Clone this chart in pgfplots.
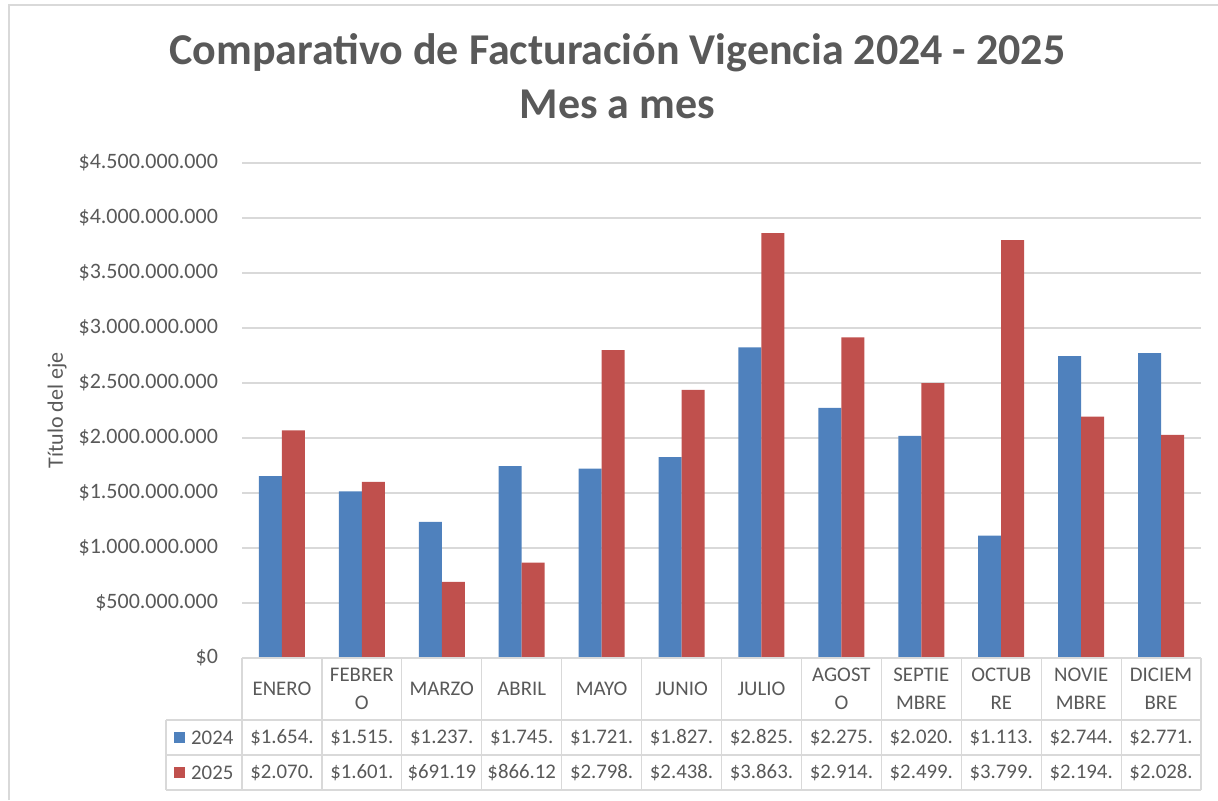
\documentclass[border=0pt]{standalone}
\usepackage{pgfplots}
\pgfplotsset{compat=1.18}
\usepackage{fontspec}
\setmainfont{Carlito}
\definecolor{bblue}{HTML}{4F81BD}
\definecolor{bred}{HTML}{C0504D}
\definecolor{txt}{HTML}{595959}
\definecolor{grd}{HTML}{D9D9D9}
\begin{document}
\begin{tikzpicture}
\path[use as bounding box] (-121pt,-71pt) rectangle (488pt,329pt);
\draw[grd, line width=0.6pt] (-116.5pt,-71pt) -- (-116.5pt,326.5pt) -- (488pt,326.5pt);
\begin{axis}[
  at={(0,0)}, anchor=south west,
  scale only axis, width=479.5pt, height=247.5pt,
  ybar=0pt, bar width=11.5pt,
  xmin=-0.5, xmax=11.5, ymin=0, ymax=4500,
  xtick=\empty,
  ytick={0,500,...,4500},
  yticklabels={\$0,\$500.000.000,\$1.000.000.000,\$1.500.000.000,\$2.000.000.000,\$2.500.000.000,\$3.000.000.000,\$3.500.000.000,\$4.000.000.000,\$4.500.000.000},
  yticklabel style={font=\fontsize{11}{13}\selectfont, text=txt, xshift=-8.5pt},
  /pgf/number format/assume math mode=true,
  major tick length=0pt,
  axis line style={draw=none},
  ymajorgrids, grid style={grd, line width=0.6pt},
  clip=false,
]
\addplot[fill=bblue, draw=none] coordinates {(0,1654) (1,1515) (2,1237) (3,1745) (4,1721) (5,1827) (6,2825) (7,2275) (8,2020) (9,1113) (10,2744) (11,2771)};
\addplot[fill=bred, draw=none] coordinates {(0,2070) (1,1601) (2,691.19) (3,866.12) (4,2798) (5,2438) (6,3863) (7,2914) (8,2499) (9,3799) (10,2194) (11,2028)};
\end{axis}
\node[rotate=90, font=\fontsize{11}{13}\selectfont, text=txt] at (-92.5pt,123.75pt) {Título del eje};
% title
\node[anchor=base, font=\fontsize{22}{26}\selectfont\bfseries, text=txt] at (187.75pt,297pt) {Comparativo de Facturación Vigencia 2024 - 2025};
\node[anchor=base, font=\fontsize{22}{26}\selectfont\bfseries, text=txt] at (187.75pt,270pt) {Mes a mes};
% data table
\def\w{39.9583}
\begin{scope}[grd, line width=0.6pt]
\draw (0pt,0pt) -- (479.5pt,0pt);
\draw (-38pt,-31pt) -- (479.5pt,-31pt);
\draw (-38pt,-48.5pt) -- (479.5pt,-48.5pt);
\draw (-38pt,-66pt) -- (479.5pt,-66pt);
\draw (-38pt,-31pt) -- (-38pt,-66pt);
\foreach \i in {0,...,12} {\draw (\i*\w pt,0pt) -- (\i*\w pt,-66pt);}
\end{scope}
\begin{scope}[every node/.style={font=\fontsize{10.4}{14}\selectfont, text=txt, align=center, inner sep=0pt}]
\foreach \lab [count=\i from 0] in {ENERO,FEBRER\\O,MARZO,ABRIL,MAYO,JUNIO,JULIO,AGOST\\O,SEPTIE\\MBRE,OCTUB\\RE,NOVIE\\MBRE,DICIEM\\BRE}
  {\node at ({(\i+0.5)*\w pt},-15.5pt) {\lab};}
\foreach \v [count=\i from 0] in {1.654.,1.515.,1.237.,1.745.,1.721.,1.827.,2.825.,2.275.,2.020.,1.113.,2.744.,2.771.}
  {\node at ({(\i+0.5)*\w pt},-39.75pt) {\$\v};}
\foreach \v [count=\i from 0] in {2.070.,1.601.,691.19,866.12,2.798.,2.438.,3.863.,2.914.,2.499.,3.799.,2.194.,2.028.}
  {\node at ({(\i+0.5)*\w pt},-57.25pt) {\$\v};}
\fill[bblue] (-34.25pt,-42.5pt) rectangle (-28.75pt,-37pt);
\fill[bred] (-34.25pt,-60pt) rectangle (-28.75pt,-54.5pt);
\node[anchor=west] at (-25.6pt,-39.75pt) {2024};
\node[anchor=west] at (-25.6pt,-57.25pt) {2025};
\end{scope}
\end{tikzpicture}
\end{document}
